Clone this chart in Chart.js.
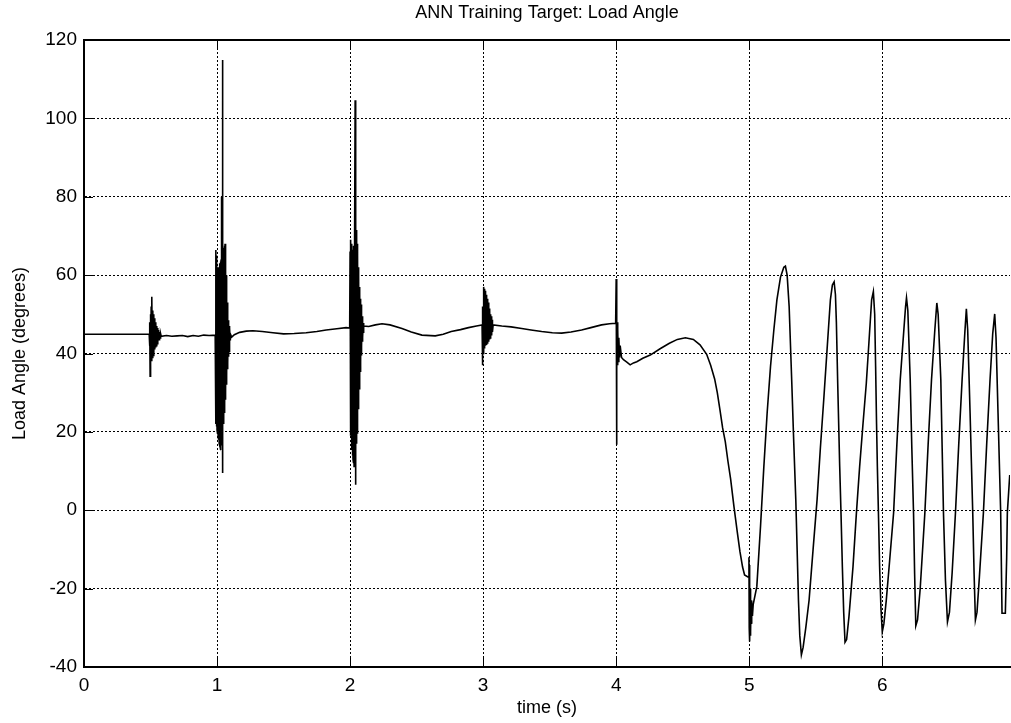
<!DOCTYPE html>
<html>
<head>
<meta charset="utf-8">
<script src="https://cdn.jsdelivr.net/npm/chart.js@4.4.1/dist/chart.umd.min.js"></script>
<style>
  html, body { margin: 0; padding: 0; background: #fff; }
  #wrap { width: 1011px; height: 723px; }
</style>
</head>
<body>
<div id="wrap"><canvas id="loadAngleChart" width="1011" height="723"></canvas></div>
<script>
// texts
const chartTitle = 'ANN Training Target: Load Angle';
const xTitle = 'time (s)';
const yTitle = 'Load Angle (degrees)';

// tick values
const timeTicks = [0, 1, 2, 3, 4, 5, 6];
const angleTicks = [-40, -20, 0, 20, 40, 60, 80, 100, 120];

// [time (s), load angle (deg)], section by section
const preDisturbance = [[0, 44.9], [0.488, 44.9]];

const burstHalf = [
  [0.490, 44.9], [0.493, 42], [0.495, 48], [0.497, 34.2], [0.499, 50], [0.502, 38],
  [0.505, 52], [0.508, 38], [0.511, 54.5], [0.514, 39], [0.517, 51], [0.520, 39.5],
  [0.523, 50], [0.526, 40], [0.529, 49], [0.532, 41], [0.535, 48], [0.538, 41.5],
  [0.541, 47.5], [0.544, 42], [0.547, 47], [0.550, 42.5], [0.553, 46.5], [0.556, 43],
  [0.560, 46], [0.564, 43.5], [0.568, 45.5], [0.572, 44], [0.576, 45], [0.580, 44.4],
  [0.62, 44.6], [0.66, 44.4], [0.70, 44.5], [0.74, 44.6], [0.78, 44.3], [0.82, 44.6],
  [0.86, 44.4], [0.90, 44.7], [0.94, 44.6], [0.986, 44.7]
];

const burstOne = [
  [0.990, 66.4], [0.992, 22], [0.994, 65], [0.996, 21.4], [0.998, 63], [1.000, 20.5],
  [1.002, 62], [1.004, 19.5], [1.006, 61.3], [1.008, 18.8], [1.010, 61.5], [1.012, 18],
  [1.014, 62], [1.016, 17], [1.018, 62.5], [1.020, 16.5], [1.022, 63], [1.024, 16],
  [1.026, 63.5], [1.028, 15.4], [1.030, 64], [1.032, 16.5], [1.034, 80], [1.036, 18],
  [1.038, 70], [1.040, 114.9], [1.042, 9.5], [1.044, 66], [1.046, 22.2], [1.048, 67],
  [1.050, 23.5], [1.052, 67], [1.054, 25], [1.056, 67.5], [1.058, 26.5], [1.060, 68],
  [1.062, 28.2], [1.064, 64], [1.066, 30], [1.068, 60], [1.070, 32], [1.072, 56],
  [1.074, 34], [1.076, 53], [1.078, 36], [1.080, 50.5], [1.082, 37.5], [1.084, 48.5],
  [1.086, 39.2], [1.088, 47.5], [1.090, 40.5], [1.092, 47], [1.094, 42], [1.096, 46.5],
  [1.098, 43.5], [1.100, 45], [1.11, 44.2], [1.13, 44.8], [1.17, 45.4], [1.22, 45.7],
  [1.27, 45.8], [1.34, 45.6], [1.42, 45.3], [1.50, 45.0], [1.58, 45.1], [1.67, 45.3],
  [1.75, 45.6], [1.82, 46.0], [1.90, 46.3], [1.97, 46.6], [1.997, 46.5]
];

const burstTwo = [
  [2.000, 66], [2.002, 22.2], [2.004, 69], [2.006, 19], [2.008, 68], [2.010, 17],
  [2.012, 67], [2.014, 15.4], [2.016, 66.5], [2.018, 14], [2.020, 65.6], [2.022, 13],
  [2.024, 66.5], [2.026, 12], [2.028, 67.5], [2.030, 11.2], [2.032, 68.5], [2.034, 12],
  [2.036, 69.5], [2.038, 104.6], [2.040, 6.5], [2.042, 70.5], [2.044, 14], [2.046, 71],
  [2.048, 17], [2.050, 71.5], [2.052, 19.7], [2.054, 68], [2.056, 23], [2.058, 65],
  [2.060, 26], [2.062, 62], [2.064, 28.5], [2.066, 60], [2.068, 31], [2.070, 57],
  [2.072, 33.3], [2.074, 55.5], [2.076, 35.5], [2.078, 54], [2.080, 37.5], [2.082, 52.5],
  [2.084, 39.5], [2.086, 51], [2.088, 41.8], [2.090, 49.5], [2.092, 43], [2.094, 48.5],
  [2.096, 44], [2.098, 47.8], [2.100, 45.2], [2.104, 47], [2.14, 46.9], [2.19, 47.3],
  [2.24, 47.6], [2.30, 47.3], [2.39, 46.4], [2.46, 45.5], [2.54, 44.7], [2.64, 44.5],
  [2.70, 44.9], [2.76, 45.6], [2.83, 46.1], [2.89, 46.6], [2.95, 47.0], [2.992, 47.3]
];

const burstThree = [
  [2.994, 47.3], [2.996, 37], [2.998, 52], [3.000, 40], [3.002, 56], [3.004, 41],
  [3.006, 57], [3.008, 41.5], [3.010, 56.5], [3.012, 41.8], [3.014, 56], [3.016, 42],
  [3.018, 55.5], [3.020, 42], [3.022, 55], [3.024, 42.2], [3.026, 54.5], [3.028, 42.3],
  [3.030, 54], [3.032, 42.5], [3.034, 53.5], [3.036, 42.8], [3.038, 53], [3.040, 43],
  [3.042, 52], [3.044, 43.3], [3.046, 51.5], [3.048, 43.6], [3.050, 51], [3.052, 44],
  [3.055, 50], [3.058, 44.3], [3.061, 49.5], [3.064, 44.6], [3.067, 48.6], [3.070, 45.5],
  [3.075, 47.3], [3.14, 47.0], [3.21, 46.8], [3.29, 46.4], [3.36, 46.0], [3.44, 45.6],
  [3.52, 45.3], [3.59, 45.2], [3.66, 45.5], [3.74, 46.0], [3.81, 46.6], [3.89, 47.3],
  [3.95, 47.6], [3.996, 47.7]
];

const eventFour = [
  [3.998, 47.7], [4.000, 59], [4.002, 16.7], [4.004, 49], [4.006, 36], [4.008, 48],
  [4.010, 37], [4.013, 46], [4.016, 38], [4.020, 44], [4.025, 39], [4.030, 42],
  [4.040, 39], [4.055, 38.4], [4.080, 37.8], [4.105, 37.1], [4.130, 37.6], [4.155, 37.9],
  [4.200, 38.8], [4.256, 39.6], [4.330, 41.2], [4.400, 42.6], [4.460, 43.6], [4.520, 44.0],
  [4.580, 43.6], [4.630, 42.2], [4.680, 39.8], [4.710, 37.0], [4.740, 33.5], [4.760, 30],
  [4.780, 25.6], [4.800, 21], [4.820, 17.5], [4.840, 12.5], [4.860, 8.0], [4.885, 1],
  [4.910, -5.5], [4.930, -10.5], [4.950, -14.5], [4.965, -16.5], [4.990, -17]
];

const eventFive = [
  [4.995, -17], [4.998, -12], [5.000, -30], [5.002, -14], [5.004, -33.5], [5.006, -20],
  [5.008, -32], [5.010, -22], [5.012, -31], [5.014, -23], [5.017, -29], [5.020, -24],
  [5.024, -27]
];

const finalSwing = [
  [5.030, -24], [5.057, -19.5], [5.085, -4], [5.11, 11.2], [5.135, 25], [5.16, 36.7],
  [5.185, 46], [5.208, 53.7], [5.235, 59.5], [5.26, 62], [5.272, 62.3], [5.285, 60],
  [5.30, 52], [5.32, 32.4], [5.335, 17], [5.35, 2.7], [5.36, -10], [5.37, -22.9],
  [5.38, -32], [5.392, -36.9], [5.405, -35], [5.425, -30], [5.45, -22.9], [5.48, -10],
  [5.51, 2.7], [5.535, 16], [5.56, 28.2], [5.585, 41], [5.61, 53.7], [5.625, 57.5],
  [5.638, 58.3], [5.648, 55], [5.655, 48], [5.665, 32.4], [5.68, 11.2], [5.69, -1],
  [5.70, -14.4], [5.71, -26], [5.72, -33.7], [5.732, -33], [5.75, -27], [5.78, -14.4],
  [5.805, -1], [5.83, 11.2], [5.855, 22], [5.88, 32.4], [5.90, 43], [5.92, 53.7],
  [5.933, 55.8], [5.943, 50], [5.95, 36.7], [5.957, 22], [5.963, 11.2], [5.972, -2],
  [5.98, -14.4], [5.99, -25], [6.00, -31], [6.012, -29], [6.03, -23], [6.055, -13],
  [6.085, -0.7], [6.11, 17], [6.135, 33.3], [6.16, 45], [6.175, 52], [6.182, 54.2],
  [6.192, 51], [6.21, 33.3], [6.222, 16], [6.235, -0.7], [6.243, -16], [6.252, -29.5],
  [6.265, -28], [6.285, -20], [6.32, -0.7], [6.345, 17], [6.37, 33.3], [6.395, 46],
  [6.41, 52.9], [6.42, 50], [6.44, 33.3], [6.45, 16], [6.46, -0.7], [6.475, -18],
  [6.49, -28.5], [6.505, -26], [6.525, -16], [6.55, -0.7], [6.575, 17], [6.60, 33.3],
  [6.62, 45], [6.632, 51.4], [6.642, 46], [6.66, 24.8], [6.67, 12], [6.68, -0.7],
  [6.69, -16], [6.70, -28], [6.712, -26], [6.73, -17], [6.76, -0.7], [6.785, 17],
  [6.81, 33.3], [6.83, 45], [6.845, 50.1], [6.855, 44], [6.87, 24.8], [6.88, 12],
  [6.89, -0.7], [6.90, -26.3], [6.925, -26.3], [6.935, -12], [6.94, -0.7], [6.958, 9]
];

const timeMax = 6.96;

const samples = [].concat(preDisturbance, burstHalf, burstOne, burstTwo,
  burstThree, eventFour, eventFive, finalSwing);

// matlab style: closed box on top + short ticks pointing into the plot
const matlabAxes = {
  id: 'matlabAxes',
  afterDraw(chart) {
    const { ctx, chartArea: a, scales: { x, y } } = chart;
    const len = 9;
    ctx.save();
    ctx.strokeStyle = '#000';
    ctx.lineWidth = 1;
    ctx.beginPath();
    x.ticks.forEach(t => {
      const px = Math.round(x.getPixelForValue(t.value)) + 0.5;
      ctx.moveTo(px, a.bottom); ctx.lineTo(px, a.bottom - len);
      ctx.moveTo(px, a.top); ctx.lineTo(px, a.top + len);
    });
    y.ticks.forEach(t => {
      const py = Math.round(y.getPixelForValue(t.value)) + 0.5;
      ctx.moveTo(a.left, py); ctx.lineTo(a.left + len, py);
    });
    ctx.stroke();
    ctx.lineWidth = 2;
    ctx.beginPath();
    ctx.moveTo(a.left, a.top); ctx.lineTo(a.right, a.top);
    ctx.stroke();
    ctx.restore();
  }
};

const font = 'Liberation Sans, Arial, sans-serif';

new Chart(document.getElementById('loadAngleChart'), {
  type: 'line',
  data: {
    datasets: [{
      label: yTitle,
      data: samples.map(([t, v]) => ({ x: t, y: v })),
      borderColor: '#000',
      borderWidth: 1.6,
      pointRadius: 0,
      tension: 0,
      fill: false
    }]
  },
  options: {
    responsive: false,
    animation: false,
    layout: { padding: { left: 0, right: 1, top: 0, bottom: 0 } },
    plugins: {
      legend: { display: false },
      tooltip: { enabled: false },
      title: {
        display: true,
        fullSize: false,
        text: chartTitle,
        color: '#000',
        font: { family: font, size: 18, weight: 'normal' },
        padding: { top: 2, bottom: 16.4 }
      }
    },
    scales: {
      x: {
        type: 'linear',
        min: 0,
        max: timeMax,
        afterBuildTicks: s => { s.ticks = timeTicks.map(v => ({ value: v })); },
        afterFit: s => { s.height = 56; },
        ticks: {
          color: '#000',
          padding: 7,
          maxRotation: 0,
          font: { family: font, size: 19 }
        },
        grid: { color: '#000', lineWidth: 1, drawTicks: false },
        border: { display: true, color: '#000', width: 2, dash: [2, 2] },
        title: {
          display: true,
          text: xTitle,
          color: '#000',
          font: { family: font, size: 18 },
          padding: { top: 0, bottom: 4 }
        }
      },
      y: {
        min: -40,
        max: 120,
        afterBuildTicks: s => { s.ticks = angleTicks.map(v => ({ value: v })); },
        afterFit: s => { s.width = 84; },
        ticks: {
          color: '#000',
          padding: 7,
          font: { family: font, size: 19 }
        },
        grid: { color: '#000', lineWidth: 1, drawTicks: false },
        border: { display: true, color: '#000', width: 2, dash: [2, 2] },
        title: {
          display: true,
          text: yTitle,
          color: '#000',
          font: { family: font, size: 18 },
          padding: { top: 9, bottom: 0 }
        }
      }
    }
  },
  plugins: [matlabAxes]
});
</script>
</body>
</html>
